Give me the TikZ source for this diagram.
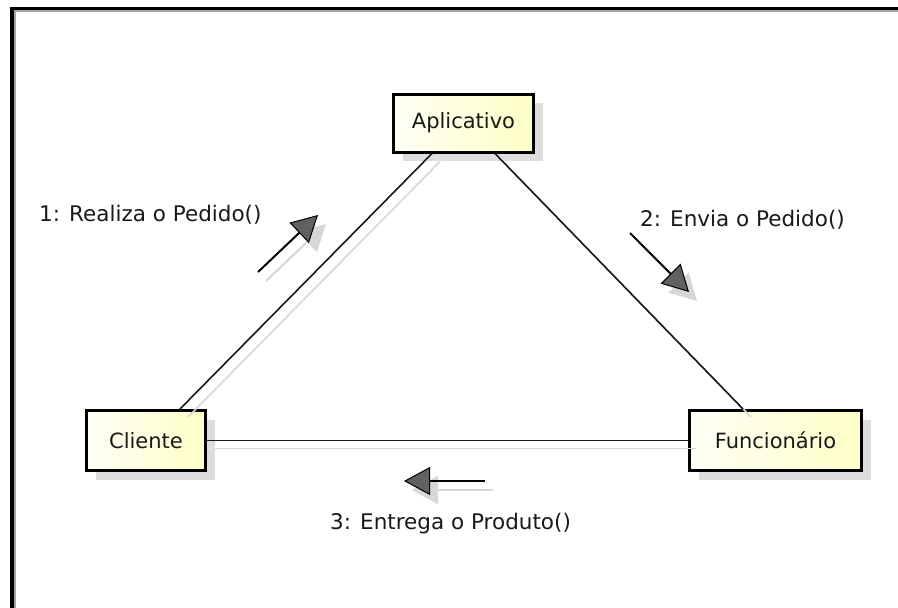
\documentclass[tikz,border=0pt]{standalone}
\usepackage{fontspec}
\setmainfont{DejaVu Sans}
\usetikzlibrary{arrows.meta,shadows,calc}

\definecolor{boxleft}{RGB}{255,255,246}
\definecolor{boxright}{RGB}{255,255,200}
\definecolor{shade}{RGB}{221,221,221}
\definecolor{lineshade}{RGB}{215,215,215}
\definecolor{ink}{RGB}{25,25,25}

\tikzset{
  objbox/.style={draw=black, line width=3pt, left color=boxleft, right color=boxright,
    inner sep=0pt, font=\fontsize{21}{25}\selectfont, text=ink,
    drop shadow={shadow xshift=9pt, shadow yshift=-9pt, fill=shade, opacity=1}},
  link/.style={draw=ink, line width=1.6pt},
  linkshadow/.style={draw=lineshade, line width=1.6pt},
  msg/.style={draw=black, line width=2pt,
    -{Triangle[length=26pt,width=28pt,fill=black!62,line width=1pt]}},
  msgshadow/.style={draw=lineshade, line width=2pt,
    -{Triangle[length=26pt,width=28pt,fill=lineshade,color=lineshade]}},
  msglabel/.style={font=\fontsize{21.5}{25}\selectfont, text=ink, inner sep=0pt}
}

\begin{document}
\begin{tikzpicture}[x=1pt,y=-1pt]
  \useasboundingbox (0,0) rectangle (898,608);
  \fill[white] (0,0) rectangle (898,608);

  % outer frame (top and left edges only)
  \draw[line width=4pt, black] (12,608) -- (12,8.5) -- (898,8.5);
  \draw[line width=1.5pt, gray!70] (14.8,608) -- (14.8,11.2) -- (898,11.2);

  % objects
  \node[objbox, minimum width=140pt, minimum height=58pt] (app) at (463.5,123) {Aplicativo};
  \node[objbox, minimum width=119pt, minimum height=60pt] (cli) at (146,440.5) {Cliente};
  \node[objbox, minimum width=172pt, minimum height=60pt] (fun) at (775.5,440.5) {Funcionário};

  % link end points on the boxes
  \coordinate (cliT) at ([xshift=34pt]cli.north);
  \coordinate (appL) at ([xshift=-31.5pt]app.south);
  \coordinate (appR) at ([xshift=31.5pt]app.south);
  \coordinate (funT) at ([xshift=-32.5pt]fun.north);

  % link shadows, offset down and to the right
  \draw[linkshadow] ($(cliT)+(8,8)$) -- ($(appL)+(8,8)$);
  \draw[linkshadow] ($(appR)+(8,8)$) -- ($(funT)+(8,8)$);
  \draw[linkshadow] ($(cli.east)+(8,8)$) -- ($(fun.west)+(8,8)$);

  % links
  \draw[link] (cliT) -- (appL);
  \draw[link] (appR) -- (funT);
  \draw[link] (cli.east) -- (fun.west);

  % message arrows
  \coordinate (m1a) at (258,272);
  \coordinate (m1b) at (318,215);
  \coordinate (m2a) at (630,233);
  \coordinate (m2b) at (689,292);
  \coordinate (m3a) at (485,481);
  \coordinate (m3b) at (404,481);

  \draw[msgshadow] ($(m1a)+(8,9)$) -- ($(m1b)+(8,9)$);
  \draw[msgshadow] ($(m2a)+(8,9)$) -- ($(m2b)+(8,9)$);
  \draw[msgshadow] ($(m3a)+(8,9)$) -- ($(m3b)+(8,9)$);
  \draw[msg] (m1a) -- (m1b);
  \draw[msg] (m2a) -- (m2b);
  \draw[msg] (m3a) -- (m3b);

  % message labels
  \node[msglabel, anchor=west] (l1) at (39,215) {1: Realiza o Pedido()};
  \node[msglabel, anchor=west] (l2) at (640,220) {2: Envia o Pedido()};
  \node[msglabel, anchor=west] (l3) at (330,524) {3: Entrega o Produto()};
\end{tikzpicture}
\end{document}
